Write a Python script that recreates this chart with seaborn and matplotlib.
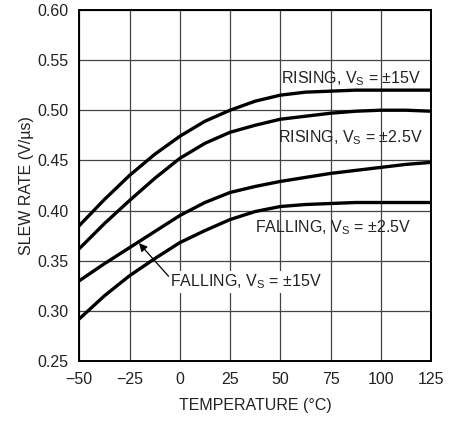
import matplotlib
matplotlib.use("Agg")
import matplotlib.pyplot as plt
from matplotlib import font_manager
import seaborn as sns
import pandas as pd

# ---- data ----
temperature = [-50, -37.5, -25, -12.5, 0, 12.5, 25, 37.5, 50, 62.5, 75, 87.5, 100, 112.5, 125]
rising_15 = [0.385, 0.411, 0.435, 0.456, 0.474, 0.489, 0.500, 0.509, 0.515, 0.518, 0.519, 0.520, 0.520, 0.520, 0.520]
rising_25 = [0.362, 0.387, 0.410, 0.432, 0.452, 0.467, 0.478, 0.485, 0.491, 0.494, 0.497, 0.499, 0.500, 0.500, 0.499]
falling_25 = [0.330, 0.347, 0.363, 0.379, 0.395, 0.408, 0.418, 0.424, 0.429, 0.433, 0.437, 0.440, 0.443, 0.446, 0.448]
falling_15 = [0.292, 0.315, 0.335, 0.352, 0.368, 0.380, 0.391, 0.399, 0.404, 0.406, 0.407, 0.408, 0.408, 0.408, 0.408]
series_names = ["RISING, ±15V", "RISING, ±2.5V", "FALLING, ±2.5V", "FALLING, ±15V"]
x_ticks = [-50, -25, 0, 25, 50, 75, 100, 125]
y_ticks = [0.25, 0.30, 0.35, 0.40, 0.45, 0.50, 0.55, 0.60]

rows = []
for name, vals in zip(series_names, [rising_15, rising_25, falling_25, falling_15]):
    for t, v in zip(temperature, vals):
        rows.append({"temp": t, "rate": v, "series": name})
df = pd.DataFrame(rows)

sns.set_theme(style="white")
names = {f.name for f in font_manager.fontManager.ttflist}
fam = "Liberation Sans Narrow" if "Liberation Sans Narrow" in names else "Liberation Sans"
plt.rcParams["font.family"] = [fam, "DejaVu Sans"]
plt.rcParams["mathtext.fontset"] = "custom"
plt.rcParams["mathtext.rm"] = fam
plt.rcParams["mathtext.it"] = fam
plt.rcParams["axes.unicode_minus"] = True

TXT = "#222222"
fig = plt.figure(figsize=(4.61, 4.21), dpi=100)
ax = fig.add_axes([0.172, 0.1425, 0.763, 0.834])

sns.lineplot(data=df, x="temp", y="rate", units="series", estimator=None,
             color="black", linewidth=2.4, ax=ax, legend=False)

ax.set_xlim(-50, 125)
ax.set_ylim(0.25, 0.60)
ax.set_xticks(x_ticks)
ax.set_yticks(y_ticks)
ax.set_xticklabels([("\u2212%d" % -t) if t < 0 else str(t) for t in x_ticks])
ax.set_yticklabels(["%.2f" % v for v in y_ticks])
ax.grid(True, color="#444444", linewidth=0.9)
ax.set_axisbelow(True)
for s in ax.spines.values():
    s.set_color("black")
    s.set_linewidth(1.4)
ax.tick_params(axis="both", length=0, labelsize=11.5, colors=TXT, pad=8)
ax.set_xlabel("TEMPERATURE (°C)", fontsize=11.5, color=TXT, labelpad=8)
ax.set_ylabel("SLEW RATE (V/µs)", fontsize=11.5, color=TXT, labelpad=2)

fs = 11.5
ax.text(120.0, 0.531, r"RISING, V$_\mathregular{S}$ = ±15V", ha="right", va="center", fontsize=fs, color=TXT)
ax.text(121.0, 0.473, r"RISING, V$_\mathregular{S}$ = ±2.5V", ha="right", va="center", fontsize=fs, color=TXT)
ax.text(115.0, 0.383, r"FALLING, V$_\mathregular{S}$ = ±2.5V", ha="right", va="center", fontsize=fs, color=TXT)
ax.annotate(r"FALLING, V$_\mathregular{S}$ = ±15V", xy=(-20.3, 0.3675), xytext=(-4.8, 0.329),
            ha="left", va="center", fontsize=fs, color=TXT,
            bbox=dict(boxstyle="square,pad=0.1", fc="white", ec="none"),
            arrowprops=dict(arrowstyle="-|>", color="black", lw=0.9, mutation_scale=12,
                            shrinkA=0, shrinkB=0, relpos=(0, 0.7)))

fig.savefig("out.png", dpi=100)
